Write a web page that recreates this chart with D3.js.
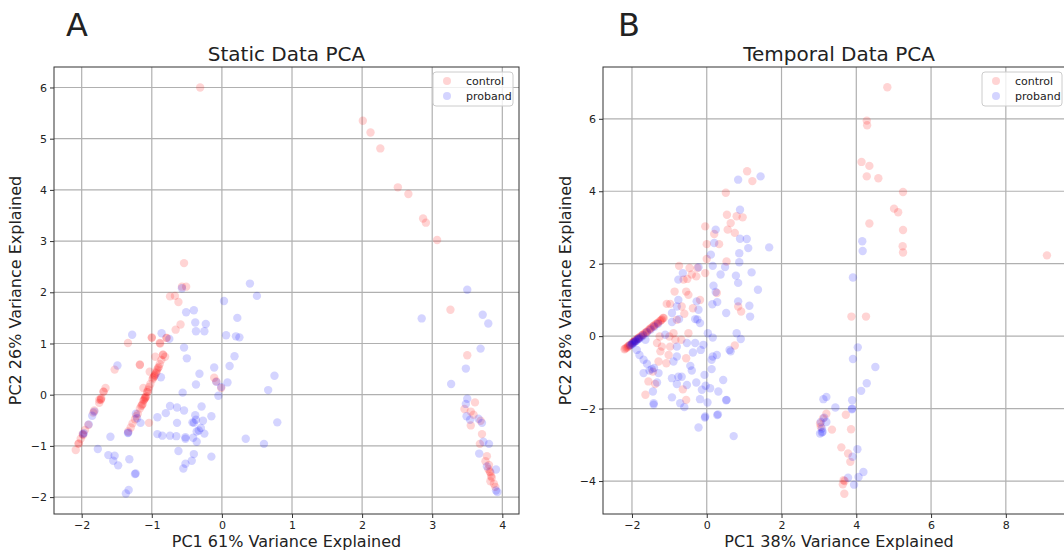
<!DOCTYPE html>
<html>
<head>
<meta charset="utf-8">
<script src="https://cdn.jsdelivr.net/npm/d3@7"></script>
<style>
  body { margin: 0; background: #fff; }
  svg text { font-family: "DejaVu Sans", sans-serif; fill: #222; }
</style>
</head>
<body>
<div id="chart"></div>
<script>
// ---- data ----
const legendLabels = ["control", "proband"];

const staticControl = [
  [-0.31, 6.0], [2.01, 5.35], [2.12, 5.12], [2.26, 4.81], [2.51, 4.05], [2.66, 3.92],
  [2.87, 3.44], [2.91, 3.36], [3.07, 3.02], [3.26, 1.66], [3.50, 0.77], [3.61, -0.15],
  [3.46, -0.28], [3.55, -0.33], [3.59, -0.39], [3.55, -0.60], [3.69, -0.51], [3.71, -0.77],
  [3.68, -0.96], [3.78, -1.20], [3.76, -1.30], [3.81, -1.37], [3.82, -1.50], [3.84, -1.59],
  [3.83, -1.69], [3.88, -1.74], [3.90, -1.80], [3.83, -1.52], [3.85, -1.62], [3.80, -1.45],
  [-0.54, 2.57], [-0.57, 2.11], [-0.51, 2.11], [-0.74, 1.92], [-0.67, 1.93], [-0.62, 1.81],
  [-0.59, 1.37], [-0.66, 1.27], [-0.79, 1.11], [-1.00, 1.11], [-0.88, 1.00], [-1.34, 1.01],
  [-1.17, 0.59], [-1.53, 0.49], [-0.84, 0.78], [-0.81, 0.74], [-0.95, 0.74], [-1.04, -0.55],
  [-0.11, 0.33], [-0.08, 0.26], [-0.01, 0.13],
  [-2.085, -1.08], [-2.047, -0.96], [-2.014, -0.86], [-1.986, -0.77], [-1.953, -0.69],
  [-1.905, -0.59], [-1.834, -0.35], [-1.82, -0.31], [-1.75, -0.10], [-1.73, -0.09],
  [-1.687, 0.06], [-1.66, 0.13], [-1.725, -0.10], [-1.69, 0.06], [-1.72, -0.07], [-1.75, -0.16],
  [-2.04, -0.95], [-1.98, -0.79],
  [-1.336, -0.72], [-1.30, -0.64], [-1.275, -0.56], [-1.24, -0.48], [-1.20, -0.37],
  [-1.17, -0.27], [-1.13, -0.18], [-1.11, -0.10], [-1.095, -0.05], [-1.066, 0.06],
  [-1.038, 0.15], [-1.02, 0.21], [-0.99, 0.30], [-0.957, 0.39], [-0.924, 0.49], [-0.90, 0.54],
  [-0.886, 0.60], [-0.863, 0.68], [-0.84, 0.78], [-1.03, 0.45], [-1.17, 0.58], [-1.12, 0.13],
  [-1.00, 1.12], [-0.886, 1.01], [-0.79, 1.11], [-1.10, -0.08], [-1.15, -0.22], [-1.06, 0.05],
  [-0.98, 0.33], [-0.93, 0.45], [-1.08, -0.03], [-1.12, -0.12], [-0.96, 0.37], [-0.91, 0.52],
  [-1.09, -0.06], [-1.14, -0.20], [-1.05, 0.10], [-0.97, 0.35], [-0.94, 0.42], [-1.22, -0.42]
];

const staticProband = [
  [3.50, 2.05], [2.85, 1.49], [3.72, 1.56], [3.80, 1.39], [3.69, 0.90], [3.48, 0.51],
  [3.27, 0.21], [3.50, -0.08], [3.48, -0.18], [3.49, -0.42], [3.54, -0.49], [3.66, -0.47],
  [3.71, -0.55], [3.73, -0.92], [3.81, -0.96], [3.67, -1.15], [3.78, -1.40], [3.91, -1.46],
  [3.91, -1.87], [3.93, -1.90],
  [0.40, 2.17], [0.50, 1.93], [0.75, 0.37], [0.66, 0.09], [0.79, -0.54], [0.60, -0.96],
  [0.03, 1.83], [-0.57, 2.08], [-0.51, 1.61], [-0.40, 1.65], [-0.38, 1.41], [-0.23, 1.38],
  [-0.37, 1.24], [-0.25, 1.24], [0.22, 1.50], [0.06, 1.16], [0.20, 1.14], [0.25, 1.12],
  [0.18, 0.75], [0.11, 0.56], [-0.11, 0.53], [0.08, 0.24], [-0.08, 0.25], [-0.01, 0.15],
  [-0.05, -0.02], [-0.32, 0.41], [-0.37, 0.20], [-0.54, 0.92], [-0.50, 0.71], [-0.56, 0.04],
  [-0.86, 1.20], [-0.75, 1.09], [-1.28, 1.17], [-1.49, 0.57], [-0.74, -0.22], [-0.64, -0.25],
  [-0.54, -0.31], [-0.29, -0.23], [-0.80, -0.36], [-0.92, -0.44], [-1.16, -0.55], [-0.64, -0.55],
  [-0.38, -0.40], [-0.37, -0.49], [-0.42, -0.54], [-0.27, -0.51], [-0.36, -0.72], [-0.25, -0.76],
  [-0.30, -0.65], [-0.15, -0.42], [-0.92, -0.77], [-0.85, -0.80], [-0.74, -0.80], [-0.65, -0.81],
  [-0.52, -0.83], [-0.41, -0.84], [-0.36, -0.92], [-0.52, -0.86], [0.34, -0.86],
  [-0.62, -1.10], [-0.15, -1.21], [-0.40, -1.16], [-0.43, -1.29], [-0.52, -1.35], [-0.55, -1.44],
  [-1.59, -0.82], [-1.77, -1.06], [-1.62, -1.18], [-1.53, -1.19], [-1.55, -1.29], [-1.48, -1.38],
  [-1.32, -1.26], [-1.23, -1.54], [-1.24, -1.55], [-1.33, -1.86], [-1.37, -1.93], [-0.87, 0.34],
  [-1.34, -0.75], [-1.82, -0.33], [-1.85, -0.41], [-1.90, -0.58], [-1.98, -0.77], [-1.97, -0.75],
  [-1.21, -0.46], [-1.336, -0.74], [-1.227, -0.37], [-0.40, -0.55], [-0.33, -0.70]
];

const temporalControl = [
  [4.83, 6.87], [4.28, 5.95], [4.29, 5.82], [4.14, 4.81], [4.35, 4.70], [4.28, 4.41],
  [4.59, 4.36], [5.25, 3.98], [5.01, 3.52], [5.12, 3.42], [4.35, 3.11], [5.25, 2.93],
  [5.24, 2.48], [5.25, 2.31], [9.10, 2.23], [3.87, 0.54], [4.26, 0.54], [3.72, -2.17],
  [3.86, -2.57], [3.20, -2.14], [3.35, -2.58], [3.11, -2.27], [3.60, -3.07], [3.78, -3.24],
  [3.84, -3.47], [3.66, -3.98], [3.64, -4.09], [3.68, -4.35], [3.69, -4.00], [3.03, -2.41],
  [3.05, -2.50],
  [1.08, 4.55], [1.22, 4.28], [0.51, 3.96], [0.54, 3.35], [0.80, 3.31], [0.96, 3.28],
  [0.64, 3.12], [0.56, 2.94], [0.75, 2.85], [-0.04, 3.03], [0.20, 2.82], [0.33, 2.54],
  [0.00, 2.54], [0.00, 2.13], [0.53, 2.06], [-0.74, 1.94], [-0.46, 1.88], [-0.25, 1.88],
  [-0.04, 1.74], [-0.62, 1.56], [-0.52, 1.58], [-0.40, 1.70], [-0.28, 1.65], [-0.86, 1.23],
  [-0.55, 1.23], [-0.49, 1.14], [-1.07, 0.89], [-0.98, 0.89], [-0.67, 0.82], [-0.37, 0.77],
  [-0.18, 1.00], [0.27, 1.19], [0.84, 0.82], [0.92, 0.68], [-1.17, 0.50], [-0.60, 0.62],
  [-0.80, 0.45], [-0.49, 0.08], [-1.00, -0.01], [-0.84, -0.10], [-1.26, -0.01], [-1.33, -0.19],
  [-1.20, -0.29], [-1.24, -0.42], [-1.29, -0.70], [-1.02, -0.52], [-0.68, -0.10], [-0.55, -0.61],
  [-0.98, -0.29], [-1.44, -0.98], [-1.56, -1.25], [-1.64, -1.62], [-1.38, -1.32], [-0.64, -1.47],
  [-0.55, -1.76], [0.75, -0.26], [-1.08, -0.75], [-0.89, 0.08],
  [-2.20, -0.36], [-2.15, -0.32], [-2.10, -0.28], [-2.05, -0.24], [-2.00, -0.19], [-1.95, -0.15],
  [-1.90, -0.11], [-1.85, -0.07], [-1.80, -0.03], [-1.75, 0.01], [-1.70, 0.05], [-1.65, 0.09],
  [-1.60, 0.13], [-1.55, 0.17], [-1.50, 0.22], [-1.45, 0.26], [-1.40, 0.30], [-1.35, 0.34],
  [-1.30, 0.38], [-1.25, 0.42], [-1.20, 0.46], [-1.15, 0.50], [-2.12, -0.31], [-1.97, -0.17],
  [-2.18, -0.34], [-2.08, -0.26], [-1.93, -0.13], [-1.83, -0.05], [-1.72, 0.03], [-1.62, 0.11],
  [-1.52, 0.20], [-1.42, 0.28], [-1.32, 0.36], [-1.22, 0.44]
];

const temporalProband = [
  [4.16, 2.62], [4.17, 2.35], [3.91, 1.62], [4.04, -0.31], [3.91, -0.63], [4.51, -0.85],
  [4.28, -1.30], [4.13, -1.51], [3.20, -1.68], [3.12, -1.74], [3.89, -1.77], [3.89, -2.00],
  [3.88, -2.02], [3.44, -1.97], [3.14, -2.25], [3.05, -2.37], [3.20, -2.37], [3.08, -2.55],
  [3.03, -2.69], [3.10, -2.64], [3.08, -2.66], [4.03, -3.12], [3.90, -3.33], [4.19, -3.75],
  [4.06, -3.89], [3.78, -3.91], [3.94, -4.10],
  [0.84, 4.32], [1.44, 4.41], [0.89, 3.49], [0.24, 2.94], [0.89, 2.69], [1.07, 2.68],
  [1.67, 2.45], [1.11, 2.43], [0.20, 2.57], [0.87, 2.29], [0.11, 2.25], [0.87, 2.04],
  [0.49, 1.91], [0.16, 1.94], [-0.22, 1.90], [-0.64, 1.74], [-0.76, 1.56], [0.37, 1.70],
  [1.20, 1.76], [0.78, 1.67], [0.84, 1.47], [1.37, 1.28], [0.18, 1.39], [0.24, 1.22],
  [0.28, 0.94], [0.15, 0.88], [0.52, 0.64], [0.84, 0.96], [1.14, 0.84], [1.16, 0.54],
  [-0.76, 1.00], [-0.80, 0.82], [-0.93, 0.64], [-0.27, 0.96], [-0.22, 0.73], [-0.31, 0.47],
  [-0.25, 0.46], [-0.74, 0.47], [-0.93, 0.39], [-0.18, 0.36], [-1.11, 0.04], [-0.80, -0.29],
  [-0.53, -0.19], [-0.31, -0.19], [0.03, 0.08], [0.16, -0.04], [-0.09, -0.24], [-0.16, -0.38],
  [-0.37, -0.45], [0.16, -0.56], [0.27, -0.52], [0.13, -0.65], [0.64, -0.42], [0.61, -0.38],
  [0.80, 0.08], [0.91, -0.08], [-1.64, -0.10], [-1.87, -0.38], [-1.80, -0.52], [-1.69, -0.65],
  [-1.60, -0.76], [-1.69, -1.02], [-1.53, -0.95], [-1.47, -0.91], [-1.41, -0.88], [-1.29, -1.02],
  [-0.89, -0.70], [-0.80, -0.56], [-0.44, -0.82], [-0.40, -0.95], [-0.67, -1.12], [-0.76, -1.12],
  [-0.93, -1.16], [-0.80, -1.32], [-0.53, -1.35], [-0.28, -1.28], [-0.06, -1.07], [-0.03, -1.37],
  [-0.13, -1.48], [0.09, -1.44], [0.13, -0.91], [0.44, -1.21], [0.31, -1.53], [0.53, -1.76],
  [-0.18, -1.74], [0.02, -1.83], [-0.71, -1.85], [-0.60, -1.96], [-0.93, -1.69], [-1.44, -1.53],
  [-1.33, -1.28], [-1.42, -1.85], [-0.04, -2.22], [0.28, -2.18], [-0.22, -2.52], [0.30, -2.16],
  [0.72, -2.76], [-0.05, -2.25], [0.52, -1.77], [-1.42, -1.89],
  [-2.05, -0.26], [-2.00, -0.22], [-1.95, -0.18], [-1.92, -0.15], [-1.88, -0.12], [-1.85, -0.09],
  [-1.80, -0.06], [-1.75, -0.02], [-1.70, 0.02], [-1.60, 0.10], [-1.50, 0.18], [-1.40, 0.26],
  [-1.30, 0.34], [-2.02, -0.24], [-1.98, -0.20], [-1.90, -0.14], [-1.82, -0.08]
];

const staticXTicks = [-2, -1, 0, 1, 2, 3, 4];
const staticYTicks = [-2, -1, 0, 1, 2, 3, 4, 5, 6];
const temporalXTicks = [-2, 0, 2, 4, 6, 8];
const temporalYTicks = [-4, -2, 0, 2, 4, 6];

// ---- layout ----
const W = 1064, H = 553;
const svg = d3.select("#chart").append("svg")
  .attr("width", W)
  .attr("height", H);

const panels = [
  {
    letter: "A", letterX: 66, title: "Static Data PCA",
    xLabel: "PC1 61% Variance Explained", yLabel: "PC2 26% Variance Explained",
    left: 54, right: 519, top: 67, bottom: 514,
    xDomain: [-2.395, 4.238], yDomain: [-2.33, 6.40],
    xTicks: staticXTicks, yTicks: staticYTicks,
    control: staticControl, proband: staticProband, yLabelX: 21, legendX: 433
  },
  {
    letter: "B", letterX: 618, title: "Temporal Data PCA",
    xLabel: "PC1 38% Variance Explained", yLabel: "PC2 28% Variance Explained",
    left: 603, right: 1075, top: 67, bottom: 514,
    xDomain: [-2.775, 9.85], yDomain: [-4.91, 7.43],
    xTicks: temporalXTicks, yTicks: temporalYTicks,
    control: temporalControl, proband: temporalProband, yLabelX: 571, legendX: 982
  }
];

const fmt = d => d < 0 ? "\u2212" + Math.abs(d) : String(d);

panels.forEach(p => {
  const x = d3.scaleLinear().domain(p.xDomain).range([p.left, p.right]);
  const y = d3.scaleLinear().domain(p.yDomain).range([p.bottom, p.top]);
  const g = svg.append("g");

  // grid
  g.selectAll("line.vgrid").data(p.xTicks).enter().append("line")
    .attr("x1", d => x(d)).attr("x2", d => x(d))
    .attr("y1", p.top).attr("y2", p.bottom)
    .attr("stroke", "#b0b0b0").attr("stroke-width", 1.2);
  g.selectAll("line.hgrid").data(p.yTicks).enter().append("line")
    .attr("x1", p.left).attr("x2", p.right)
    .attr("y1", d => y(d)).attr("y2", d => y(d))
    .attr("stroke", "#b0b0b0").attr("stroke-width", 1.2);

  // points: control first, proband on top
  const drawPoints = (data, color) => {
    g.append("g").selectAll("circle").data(data).enter().append("circle")
      .attr("cx", d => x(d[0]))
      .attr("cy", d => y(d[1]))
      .attr("r", 4.2)
      .attr("fill", color)
      .attr("fill-opacity", 0.17);
  };
  drawPoints(p.control, "red");
  drawPoints(p.proband, "blue");

  // frame
  g.append("rect")
    .attr("x", p.left).attr("y", p.top)
    .attr("width", p.right - p.left).attr("height", p.bottom - p.top)
    .attr("fill", "none").attr("stroke", "#333").attr("stroke-width", 1);

  // axes
  const xAxis = g.append("g")
    .attr("transform", `translate(0,${p.bottom})`)
    .call(d3.axisBottom(x).tickValues(p.xTicks).tickFormat(fmt).tickSize(4).tickPadding(3));
  const yAxis = g.append("g")
    .attr("transform", `translate(${p.left},0)`)
    .call(d3.axisLeft(y).tickValues(p.yTicks).tickFormat(fmt).tickSize(4).tickPadding(3));
  [xAxis, yAxis].forEach(a => {
    a.select(".domain").remove();
    a.selectAll("line").attr("stroke", "#333");
    a.selectAll("text").attr("font-size", 11).attr("fill", "#222")
      .attr("font-family", "DejaVu Sans, sans-serif");
  });

  // labels
  svg.append("text").attr("x", p.letterX).attr("y", 36)
    .attr("font-size", 32).text(p.letter);
  svg.append("text").attr("x", (p.left + p.right) / 2).attr("y", 61)
    .attr("text-anchor", "middle").attr("font-size", 20).text(p.title);
  svg.append("text").attr("x", (p.left + p.right) / 2).attr("y", 547)
    .attr("text-anchor", "middle").attr("font-size", 16).text(p.xLabel);
  svg.append("text")
    .attr("transform", `translate(${p.yLabelX},${(p.top + p.bottom) / 2}) rotate(-90)`)
    .attr("text-anchor", "middle").attr("font-size", 16).text(p.yLabel);

  // legend
  const lg = svg.append("g").attr("transform", `translate(${p.legendX},${p.top + 5})`);
  lg.append("rect").attr("width", 80).attr("height", 34).attr("rx", 3)
    .attr("fill", "#fff").attr("fill-opacity", 0.8)
    .attr("stroke", "#ccc").attr("stroke-width", 1);
  legendLabels.forEach((name, i) => {
    lg.append("circle").attr("cx", 14).attr("cy", 9 + i * 15).attr("r", 4)
      .attr("fill", i === 0 ? "red" : "blue").attr("fill-opacity", 0.17);
    lg.append("text").attr("x", 33).attr("y", 13 + i * 15)
      .attr("font-size", 11).text(name);
  });
});
</script>
</body>
</html>
